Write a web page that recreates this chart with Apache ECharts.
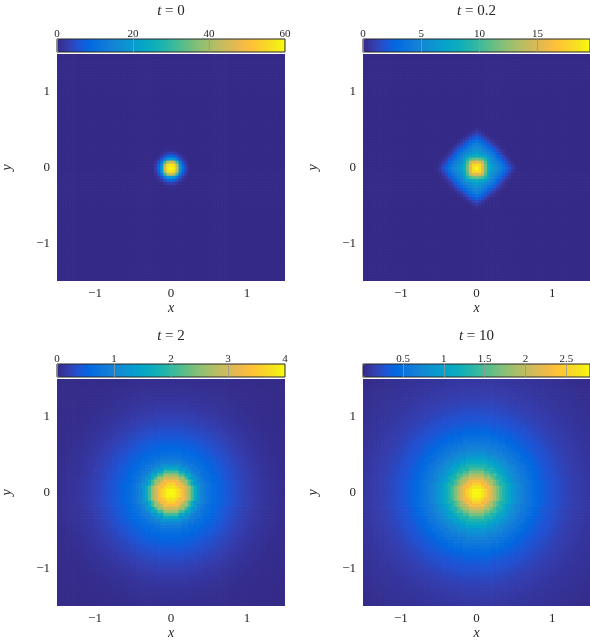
<!DOCTYPE html>
<html><head><meta charset="utf-8">
<script src="https://cdn.jsdelivr.net/npm/echarts@6/dist/echarts.min.js"></script>
<style>html,body{margin:0;padding:0;background:#fff}#c{width:590px;height:642px}</style>
</head><body><div id="c"></div>
<script>
// ---------------- data ----------------
const titleTimes = ['0', '0.2', '2', '10'];
const axisTicks = [-1, 0, 1];
const cellSize = 0.04;          // grid spacing of the simulation
const nCells = 75;              // cells per side, -1.5 .. 1.5
const cbMin = [0, 0, 0, 0.01];
const cbMax = [60, 19.5, 4, 2.79];
const cbTicks = [[0, 20, 40, 60], [0, 5, 10, 15], [0, 1, 2, 3, 4], [0.5, 1, 1.5, 2, 2.5]];

// quadrant values (row = |x| offset in cells, col = |y| offset in cells); missing = 0
const quadT0 = [
  [60, 58, 45, 20, 9, 3, 0.5],
  [58, 56, 42, 18, 8, 2.5, 0.3],
  [45, 42, 30, 12, 5, 1.5],
  [20, 18, 12, 6, 2, 0.5],
  [9, 8, 5, 2, 0.8],
  [3, 2.5, 1.5, 0.5],
  [0.5, 0.3]
];
const quadT02 = [
  [19.5, 18.5, 15.5, 11.5, 8.5, 7, 6, 5.3, 4.5, 3.6, 2.6, 1.6, 0.8, 0.25],
  [18.5, 18, 15.2, 11.2, 8, 6.5, 5.6, 4.9, 4.1, 3.1, 2.1, 1.2, 0.5, 0.1],
  [15.5, 15.2, 14, 10.5, 7.5, 5.8, 5, 4.3, 3.4, 2.5, 1.5, 0.7, 0.2],
  [11.5, 11.2, 10.5, 9, 6.8, 5.2, 4.4, 3.6, 2.6, 1.7, 0.9, 0.3],
  [8.5, 8, 7.5, 6.8, 5.8, 4.6, 3.8, 2.8, 1.8, 1, 0.4, 0.1],
  [7, 6.5, 5.8, 5.2, 4.6, 3.9, 3, 2, 1.1, 0.5, 0.1],
  [6, 5.6, 5, 4.4, 3.8, 3, 2.2, 1.3, 0.6, 0.2],
  [5.3, 4.9, 4.3, 3.6, 2.8, 2, 1.3, 0.7, 0.2],
  [4.5, 4.1, 3.4, 2.6, 1.8, 1.1, 0.6, 0.2],
  [3.6, 3.1, 2.5, 1.7, 1, 0.5, 0.2],
  [2.6, 2.1, 1.5, 0.9, 0.4, 0.1],
  [1.6, 1.2, 0.7, 0.3, 0.1],
  [0.8, 0.5, 0.2],
  [0.25, 0.1]
];
// radial profiles, one value per cell of distance from the centre
const radialT2 = [4.0, 3.95, 3.8, 3.6, 3.3, 2.95, 2.6, 2.1, 1.6, 1.25, 1.0, 0.85, 0.75, 0.68, 0.62, 0.57, 0.52, 0.48,
  0.44, 0.40, 0.36, 0.33, 0.30, 0.27, 0.245, 0.22, 0.195, 0.175, 0.155, 0.135, 0.12, 0.105, 0.09, 0.08, 0.07, 0.06,
  0.052, 0.045, 0.04, 0.035, 0.03, 0.027, 0.024, 0.021, 0.018, 0.016, 0.014, 0.012, 0.01, 0.009, 0.008, 0.007, 0.006, 0.005];
const radialT10 = [2.79, 2.75, 2.65, 2.5, 2.3, 2.1, 1.88, 1.67, 1.47, 1.3, 1.15, 1.02, 0.91, 0.82, 0.74, 0.67, 0.61, 0.55,
  0.5, 0.46, 0.42, 0.38, 0.35, 0.32, 0.29, 0.27, 0.25, 0.23, 0.21, 0.19, 0.175, 0.16, 0.15, 0.14, 0.13, 0.12,
  0.11, 0.10, 0.09, 0.085, 0.08, 0.075, 0.07, 0.065, 0.06, 0.055, 0.05, 0.045, 0.04, 0.035, 0.03, 0.025, 0.02, 0.015];

// ---------------- build ----------------
const parula = ['#352A87', '#353DAD', '#2053D4', '#0268E1', '#0D75DC', '#1481D6', '#108ED2', '#079CCF', '#06A7C6',
  '#0FAEB9', '#25B5A9', '#42BB98', '#65BE86', '#87BF77', '#A5BE6B', '#C0BC60', '#D9BA56', '#F1B94A', '#FFC337',
  '#FAD32A', '#F5E41D', '#F9FB0E'];
const SERIF = '"Liberation Serif", "DejaVu Serif", serif';
const TXT = '#262626';
const centre = (nCells - 1) / 2;

function fromQuad(q, di, dj) { return (q[di] && q[di][dj] !== undefined) ? q[di][dj] : 0; }
function fromRadial(p, di, dj) { const k = Math.round(Math.hypot(di, dj)); return p[Math.min(k, p.length - 1)]; }
const sources = [
  (a, b) => fromQuad(quadT0, a, b),
  (a, b) => fromQuad(quadT02, a, b),
  (a, b) => fromRadial(radialT2, a, b),
  (a, b) => fromRadial(radialT10, a, b)
];

const panels = [
  {left: 57, top: 54, width: 228, height: 227},
  {left: 363, top: 54, width: 227, height: 227},
  {left: 57, top: 379, width: 228, height: 227},
  {left: 363, top: 379, width: 227, height: 227}
];
const minus = v => (v < 0 ? '\u2212' : '') + Math.abs(v);
const half = cellSize / 2;

const grid = [], xAxis = [], yAxis = [], series = [], visualMap = [], title = [];
panels.forEach(p => grid.push({left: p.left, top: p.top, width: p.width, height: p.height, show: false,
  containLabel: false, outerBoundsMode: 'none'}));
panels.forEach(p => grid.push({left: p.left, top: p.top - 15, width: p.width, height: 13, show: true, z: 10,
  containLabel: false, outerBoundsMode: 'none',
  backgroundColor: 'rgba(0,0,0,0)', borderColor: TXT, borderWidth: 1}));
panels.forEach((p, k) => {
  xAxis.push({type: 'value', gridIndex: k, min: -1.5, max: 1.5, position: 'bottom',
    axisLine: {show: false, onZero: false}, axisTick: {show: false}, splitLine: {show: false},
    axisLabel: {customValues: axisTicks, formatter: minus, margin: 6, fontFamily: SERIF, fontSize: 13, color: TXT},
    name: 'x', nameLocation: 'middle', nameGap: 20,
    nameTextStyle: {fontFamily: SERIF, fontStyle: 'italic', fontSize: 14, color: TXT}});
  yAxis.push({type: 'value', gridIndex: k, min: -1.5, max: 1.5, position: 'left',
    axisLine: {show: false, onZero: false}, axisTick: {show: false}, splitLine: {show: false},
    axisLabel: {customValues: axisTicks, formatter: minus, margin: 7, fontFamily: SERIF, fontSize: 13, color: TXT},
    name: 'y', nameLocation: 'middle', nameGap: 43, nameRotate: 90,
    nameTextStyle: {fontFamily: SERIF, fontStyle: 'italic', fontSize: 14, color: TXT}});
});
panels.forEach((p, k) => {
  xAxis.push({type: 'value', gridIndex: 4 + k, min: cbMin[k], max: cbMax[k], position: 'top', z: 11,
    axisLine: {show: false, onZero: false}, splitLine: {show: false},
    axisTick: {show: true, inside: true, length: 13, customValues: cbTicks[k],
      lineStyle: {color: 'rgba(150,150,150,0.75)', width: 1}},
    axisLabel: {customValues: cbTicks[k], margin: -1, fontFamily: SERIF, fontSize: 11, color: TXT}});
  yAxis.push({type: 'value', gridIndex: 4 + k, show: false, min: 0, max: 1});
});

function renderCell(params, api) {
  const x = api.value(0), y = api.value(1);
  const a = api.coord([x - half, y + half]);
  const b = api.coord([x + half, y - half]);
  return {type: 'rect', shape: {x: a[0], y: a[1], width: b[0] - a[0] + 0.7, height: b[1] - a[1] + 0.7},
    style: {fill: api.visual('color')}};
}

panels.forEach((p, k) => {
  const data = [];
  for (let i = 0; i < nCells; i++) {
    for (let j = 0; j < nCells; j++) {
      data.push([(i - centre) * cellSize, (j - centre) * cellSize,
        sources[k](Math.abs(i - centre), Math.abs(j - centre))]);
    }
  }
  series.push({type: 'custom', xAxisIndex: k, yAxisIndex: k, data, renderItem: renderCell, clip: true,
    progressive: 0, silent: true, emphasis: {disabled: true}});
  visualMap.push({type: 'continuous', seriesIndex: k, dimension: 2, min: cbMin[k], max: cbMax[k],
    orient: 'horizontal', left: p.left, top: p.top - 15, itemWidth: 13, itemHeight: p.width, padding: 0,
    calculable: false, hoverLink: false, text: null, showLabel: false, inRange: {color: parula}});
  title.push({text: '{i|t} = ' + titleTimes[k], left: p.left + p.width / 2, top: p.top - 50, textAlign: 'center',
    padding: 0,
    textStyle: {fontFamily: SERIF, fontSize: 15, fontWeight: 'normal', color: TXT,
      rich: {i: {fontFamily: SERIF, fontStyle: 'italic', fontSize: 15, color: TXT}}}});
});

const chart = echarts.init(document.getElementById('c'), null, {renderer: 'canvas'});
chart.setOption({animation: false, backgroundColor: '#fff', title, grid, xAxis, yAxis, series, visualMap});
</script></body></html>
